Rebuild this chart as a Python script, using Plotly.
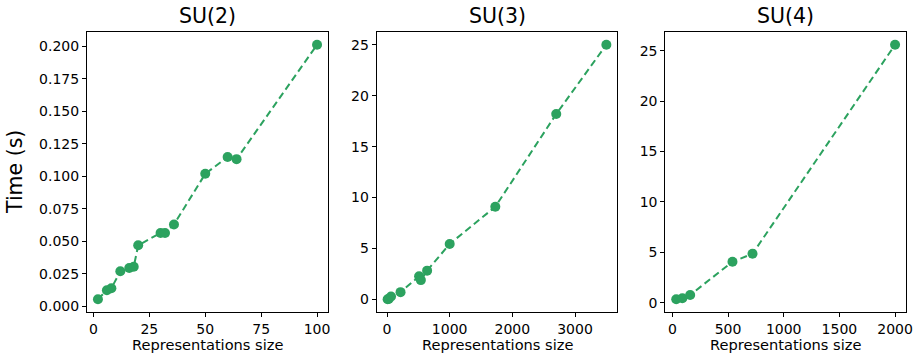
import plotly.graph_objects as go

# ---- data ----
su2_size = [2, 6, 8, 12, 16, 18, 20, 30, 32, 36, 50, 60, 64, 100]
su2_time = [0.0055, 0.0125, 0.014, 0.027, 0.0295, 0.0305, 0.047, 0.0565, 0.0565, 0.063, 0.102, 0.115, 0.1133, 0.2013]

su3_size = [10, 27, 64, 216, 512, 540, 640, 1000, 1728, 2700, 3500]
su3_time = [0.02, 0.05, 0.3, 0.72, 2.27, 1.9, 2.83, 5.45, 9.1, 18.2, 25.0]

su4_size = [35, 90, 160, 540, 720, 2000]
su4_time = [0.33, 0.43, 0.76, 4.05, 4.85, 25.6]

titles = ["SU(2)", "SU(3)", "SU(4)"]
x_ticks = [[0, 25, 50, 75, 100], [0, 1000, 2000, 3000], [0, 500, 1000, 1500, 2000]]
y_ticks = [[0, 0.025, 0.05, 0.075, 0.1, 0.125, 0.15, 0.175, 0.2],
           [0, 5, 10, 15, 20, 25],
           [0, 5, 10, 15, 20, 25]]
y_tick_text = [["0.000", "0.025", "0.050", "0.075", "0.100", "0.125", "0.150", "0.175", "0.200"],
               ["0", "5", "10", "15", "20", "25"],
               ["0", "5", "10", "15", "20", "25"]]
x_label = "Representations size"
y_label = "Time (s)"

series = [(su2_size, su2_time), (su3_size, su3_time), (su4_size, su4_time)]

COLOR = "#2ca25f"
FONT = "DejaVu Sans"

W, H = 914, 354
ML, MR, MT, MB = 87, 8, 32, 42
PW = W - ML - MR
domains = [[0, 241 / PW], [(376.7 - ML) / PW, (617.3 - ML) / PW], [(665.3 - ML) / PW, 1.0]]


def padded(vals):
    lo, hi = min(vals), max(vals)
    m = (hi - lo) * 0.05
    return [lo - m, hi + m]


fig = go.Figure()
annotations = []
for i, (xs, ys) in enumerate(series):
    n = "" if i == 0 else str(i + 1)
    fig.add_trace(go.Scatter(
        x=xs, y=ys, mode="lines+markers",
        line=dict(color=COLOR, width=2, dash="7px,4px"),
        marker=dict(color=COLOR, size=10),
        xaxis="x" + n, yaxis="y" + n, showlegend=False,
    ))
    axis_common = dict(
        showline=True, linecolor="black", linewidth=1, mirror=True,
        ticks="outside", ticklen=4, tickwidth=1, tickcolor="black",
        showgrid=False, zeroline=False, automargin=False,
        tickfont=dict(family=FONT, size=14, color="black"),
    )
    fig.update_layout(**{
        "xaxis" + n: dict(domain=domains[i], range=padded(xs), tickvals=x_ticks[i],
                          anchor="y" + n, **axis_common),
        "yaxis" + n: dict(domain=[0, 1], range=padded(ys), tickvals=y_ticks[i],
                          ticktext=y_tick_text[i], anchor="x" + n, **axis_common),
    })
    annotations.append(dict(
        text=titles[i], xref="x" + n + " domain", x=0.5, yref="paper", y=1,
        xanchor="center", yanchor="bottom", yshift=2, showarrow=False,
        font=dict(family=FONT, size=20.5, color="black"),
    ))
    annotations.append(dict(
        text=x_label, xref="x" + n + " domain", x=0.5, yref="paper", y=0,
        xanchor="center", yanchor="top", yshift=-22, showarrow=False,
        font=dict(family=FONT, size=14.6, color="black"),
    ))

annotations.append(dict(
    text=y_label, xref="paper", x=(15 - ML) / PW, yref="paper", y=0.5,
    xanchor="center", yanchor="middle", textangle=-90, showarrow=False,
    font=dict(family=FONT, size=20.5, color="black"),
))

fig.update_layout(
    template="none",
    width=W, height=H,
    margin=dict(l=ML, r=MR, t=MT, b=MB, pad=0, autoexpand=False),
    paper_bgcolor="white", plot_bgcolor="white",
    annotations=annotations,
    font=dict(family=FONT, color="black"),
)

fig.write_html(
    "out.html",
    config={"displayModeBar": False},
    post_script="document.body.style.margin='0px';document.body.style.overflow='hidden';",
)
